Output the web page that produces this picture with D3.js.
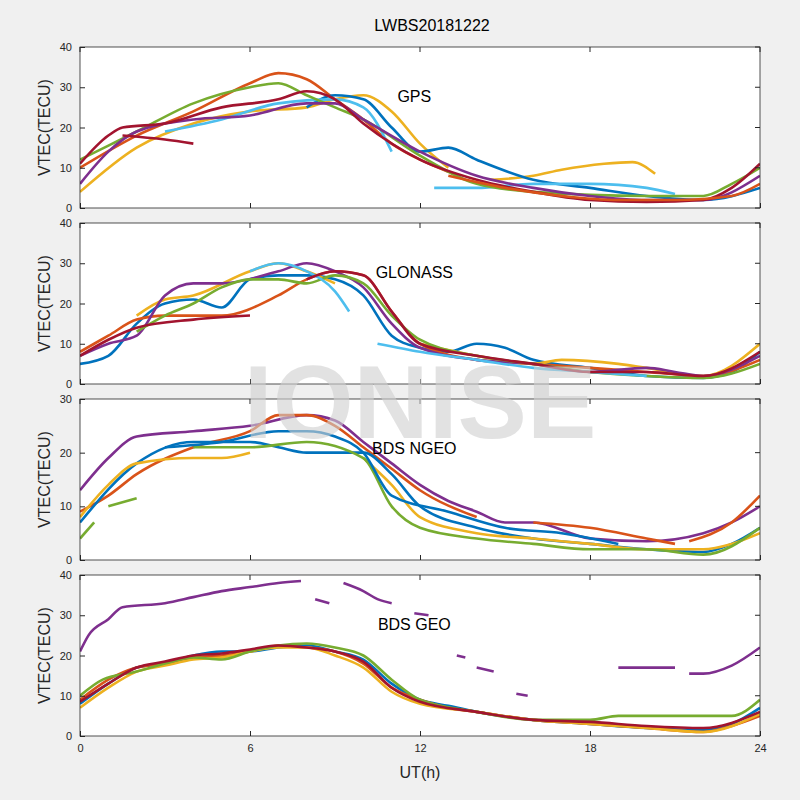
<!DOCTYPE html>
<html><head><meta charset="utf-8">
<script src="https://cdn.jsdelivr.net/npm/d3@7"></script>
<style>body{margin:0;background:#f0f0f0}</style>
</head><body>
<svg id="fig"></svg>
<script>
var colors = ["#0072BD","#D95319","#EDB120","#7E2F8E","#77AC30","#4DBEEE","#A2142F"];
var xTicks = [0,6,12,18,24];

// each series: colour index, then [hour, VTEC] points
var gpsSeries = [
  [1,[[0,10],[2,18],[4,24],[6,31],[7,33.5],[8,32],[9,27],[10,22],[11,16],[12,12],[13,9]]],
  [2,[[0,4],[2,15],[4,21],[6,24],[8,25],[9,27],[10,28],[11,24],[12,16],[13,10]]],
  [2,[[14.5,7],[16,8],[17,9.5],[18.5,11],[19.5,11.4],[20.3,8.5]]],
  [0,[[8,25],[9,28],[10,27],[11,20],[12,14],[13,15],[14,12],[16,7],[18,5],[20,3],[22,2],[24,5]]],
  [5,[[3,19],[5,22],[7,26],[9,27],[10,25],[11,14]]],
  [5,[[12.5,5],[14,5],[16,6],[18,6],[20,5],[21,3.5]]],
  [4,[[0,12],[2,19],[4,26],[6,30],[7,31],[8,28],[9,25],[10,22],[12,13],[14,6],[16,4],[20,3],[22,3],[23,6],[24,10]]],
  [3,[[0,6],[1,14],[2,19],[4,22],[6,23],[8,26],[9,26],[10,22],[12,14],[14,8],[16,5],[18,3],[20,2],[22,2],[24,8]]],
  [6,[[0,11],[1,18],[1.5,20],[3,21],[5,25],[7,27],[8,29],[9,27],[10,21],[12,12],[14,7],[16,4],[18,2],[20,1.5],[22,2],[23,5],[24,11]]],
  [6,[[1.5,18],[3,17],[4,16]]],
  [1,[[13,8],[15,5],[17,3],[19,2],[21,2],[23,3],[24,6]]]
];
var glonassSeries = [
  [0,[[0,5],[1,7],[2,15],[3,20],[4,21],[5,19],[6,26],[7,27],[8,27],[9,26],[10,22],[11,12],[12,9],[13,8],[14,10],[15,9],[16,6],[18,4],[20,2],[22,1.5],[23,3],[24,8]]],
  [1,[[0,8],[1,12],[2,16],[3,17],[5,17],[7,22],[8,26],[9,28],[10,27],[11,18],[12,10],[14,6],[16,5],[18,4],[20,3],[22,2],[24,6]]],
  [2,[[2,17],[3,21],[4,22],[6,28],[7,30],[8,28],[9,25]]],
  [2,[[12,10],[14,7],[16,5],[17,6],[19,5],[20,4],[22,2],[24,10]]],
  [3,[[0,7],[1,10],[2,12],[3,22],[4,25],[5,25],[7,28],[8,30],[9,28],[10,24],[11,15],[12,9],[14,6],[16,5],[18,3],[20,4],[21,3],[22,2],[24,7]]],
  [4,[[2,13],[3,17],[4,20],[5,24],[6,26],[7,26],[8,25],[9,27],[10,25],[11,17],[12,11],[14,7],[16,5],[18,3],[20,2],[22,1.5],[24,5]]],
  [5,[[6,28],[7,30],[8,28],[9,23],[9.5,18]]],
  [5,[[10.5,10],[12,8],[14,6],[16,4],[18,3],[20,2]]],
  [6,[[0,7],[1,11],[2,14],[4,16],[6,17]]],
  [6,[[8,26],[9,28],[10,27],[11,18],[12,10],[14,7],[16,5],[18,3],[20,3],[22,2],[24,8]]]
];
var ngeoSeries = [
  [3,[[0,13],[1,19],[2,23],[4,24],[6,25],[8,27],[9,26],[10,22],[11,18],[12,14],[13,11],[14,9],[15,7],[16,7],[18,4],[20,3.5],[22,5],[23,7],[24,10]]],
  [1,[[0,9],[1,12],[2,16],[4,21],[6,24],[7,27],[8,27],[9,25],[10,21],[11,17],[12,13],[14,8]]],
  [1,[[16,7],[18,6],[20,4],[21,3]]],
  [1,[[21.5,3.5],[23,7],[24,12]]],
  [0,[[0,7],[2,18],[4,22],[6,22],[7,21],[8,20],[9,20],[10,20],[11,16],[12,10],[14,6],[16,4],[18,3],[20,2],[22,1.5],[23,3],[24,6]]],
  [2,[[0,8],[1,14],[2,18],[4,19],[5,19],[6,20]]],
  [2,[[10,19],[11,14],[12,8],[14,5],[16,4],[18,3],[20,2],[22,2],[23,3],[24,5]]],
  [4,[[0,4],[0.5,7]]],
  [4,[[1,10],[2,11.5]]],
  [4,[[4,21],[6,21],[8,22],[10,19],[11,10],[12,6],[14,4],[16,3],[18,2],[20,2],[22,1],[24,6]]],
  [0,[[3,21],[5,22],[7,24],[8,24],[9,23],[10,20],[11,12],[13,9],[15,6],[17,5],[19,3]]]
];
var geoSeries = [
  [3,[[0,21],[0.3,25],[1,29],[1.5,32],[3,33],[4,34.5],[5,36],[6,37],[7,38],[7.8,38.5]]],
  [3,[[8.3,34],[8.8,33]]],
  [3,[[9.3,38],[10,36],[10.5,34],[11,33]]],
  [3,[[11.8,30.5],[12.3,30]]],
  [3,[[13.3,20],[13.6,19.5]]],
  [3,[[14,17],[14.6,16]]],
  [3,[[15.4,10.5],[15.8,10]]],
  [3,[[19,17],[20,17],[21,17]]],
  [3,[[21.5,15.5],[22,15.5],[23,17.5],[24,22]]],
  [0,[[0,8],[1,13],[2,17],[3,18],[4,20],[5,21],[6,21],[7,22],[8,22.5],[9,21],[10,19],[11,13],[12,9],[13,7.5],[14,6],[16,4],[18,3],[20,2],[22,1.5],[23,3],[24,7]]],
  [1,[[0,9],[1,14],[2,17],[3,18],[4,19.5],[5,20],[6,21],[7,22.5],[8,22],[9,21],[10,18],[11,12],[12,9],[13,7],[14,6],[16,4],[18,3],[20,2],[22,1],[23,2.5],[24,5]]],
  [2,[[0,7],[1,12],[2,16],[3,17.5],[4,19],[5,19.5],[6,21],[7,22],[8,22],[9,20],[10,17],[11,11],[12,8],[14,6],[16,4],[18,3],[20,2],[22,1],[24,5.5]]],
  [4,[[0,10],[0.8,14],[2,16],[3,18],[4,19.5],[5,19],[6,21],[7,22.5],[8,23],[9,22],[10,20],[11,14],[12,9],[14,6],[16,4],[18,4],[19,5],[21,5],[23,5],[24,9]]],
  [6,[[0,8.5],[1,13],[2,17],[3,18.5],[4,20],[5,20.5],[6,21.5],[7,22.5],[8,22],[9,21],[10,18.5],[11,12],[12,8.5],[14,6],[16,4],[18,3.5],[20,2.5],[22,2],[24,6]]]
];

var panels = [
  {name:"GPS", data:gpsSeries, max:40, ticks:[0,10,20,30,40], label:[11.8,27.5]},
  {name:"GLONASS", data:glonassSeries, max:40, ticks:[0,10,20,30,40], label:[11.8,27.5]},
  {name:"BDS NGEO", data:ngeoSeries, max:30, ticks:[0,10,20,30], label:[11.8,20.5]},
  {name:"BDS GEO", data:geoSeries, max:40, ticks:[0,10,20,30,40], label:[11.8,27.5]}
];

var W = 800, H = 800, left = 80, right = 760, panelH = 161, tops = [47,223,399,575];
var svg = d3.select("#fig").attr("width", W).attr("height", H)
  .style("font-family", "Liberation Sans, Arial, sans-serif");
svg.append("rect").attr("width", W).attr("height", H).attr("fill", "#f0f0f0");

var x = d3.scaleLinear().domain([0,24]).range([left,right]);

panels.forEach(function(p, i) {
  var top = tops[i];
  var y = d3.scaleLinear().domain([0,p.max]).range([top+panelH, top]);
  var g = svg.append("g");
  g.append("rect").attr("x", left).attr("y", top).attr("width", right-left).attr("height", panelH).attr("fill", "white");

  var clip = "clip" + i;
  g.append("clipPath").attr("id", clip).append("rect")
    .attr("x", left).attr("y", top).attr("width", right-left).attr("height", panelH);

  var line = d3.line().x(function(d){return x(d[0]);}).y(function(d){return y(d[1]);}).curve(d3.curveMonotoneX);
  g.append("g").attr("clip-path", "url(#" + clip + ")").selectAll("path")
    .data(p.data).enter().append("path")
      .attr("d", function(d){return line(d[1]);})
      .attr("fill", "none")
      .attr("stroke", function(d){return colors[d[0]];})
      .attr("stroke-width", 2.6);

  var yAxis = d3.axisLeft(y).tickValues(p.ticks).tickSizeInner(-5).tickSizeOuter(0).tickPadding(8);
  var ya = g.append("g").attr("transform", "translate(" + left + ",0)").call(yAxis);
  var xAxis = d3.axisBottom(x).tickValues(xTicks).tickSizeInner(-5).tickSizeOuter(0).tickPadding(8);
  var xa = g.append("g").attr("transform", "translate(0," + (top+panelH) + ")").call(xAxis);
  if (i < 3) xa.selectAll("text").remove();
  [ya, xa].forEach(function(a){
    a.select(".domain").remove();
    a.selectAll("line").attr("stroke", "#262626");
    a.selectAll("text").attr("font-size", 11).attr("fill", "#262626").style("font-family", "Liberation Sans, Arial, sans-serif");
  });
  // right/top ticks
  xTicks.forEach(function(t){
    g.append("line").attr("x1", x(t)).attr("x2", x(t)).attr("y1", top).attr("y2", top+5).attr("stroke", "#262626");
  });
  p.ticks.forEach(function(t){
    g.append("line").attr("x1", right).attr("x2", right-5).attr("y1", y(t)).attr("y2", y(t)).attr("stroke", "#262626");
  });
  g.append("rect").attr("x", left).attr("y", top).attr("width", right-left).attr("height", panelH)
    .attr("fill", "none").attr("stroke", "#262626").attr("stroke-width", 0.8);

  g.append("text").attr("x", x(p.label[0])).attr("y", y(p.label[1])).attr("font-size", 16).attr("text-anchor", "middle")
    .attr("dominant-baseline", "middle").text(p.name);
  g.append("text").attr("transform", "translate(50," + (top+panelH/2) + ") rotate(-90)")
    .attr("text-anchor", "middle").attr("font-size", 16).attr("fill", "#262626").text("VTEC(TECU)");
});

svg.append("text").attr("x", 420).attr("y", 438).attr("text-anchor", "middle").attr("font-size", 104)
  .attr("font-weight", "bold").attr("fill", "#d0d0d0").attr("opacity", 0.6).text("IONISE");
svg.append("text").attr("x", 432).attr("y", 31).attr("text-anchor", "middle").attr("font-size", 16).text("LWBS20181222");
svg.append("text").attr("x", 420).attr("y", 778).attr("text-anchor", "middle").attr("font-size", 16).attr("fill", "#262626").text("UT(h)");
</script>
</body></html>
